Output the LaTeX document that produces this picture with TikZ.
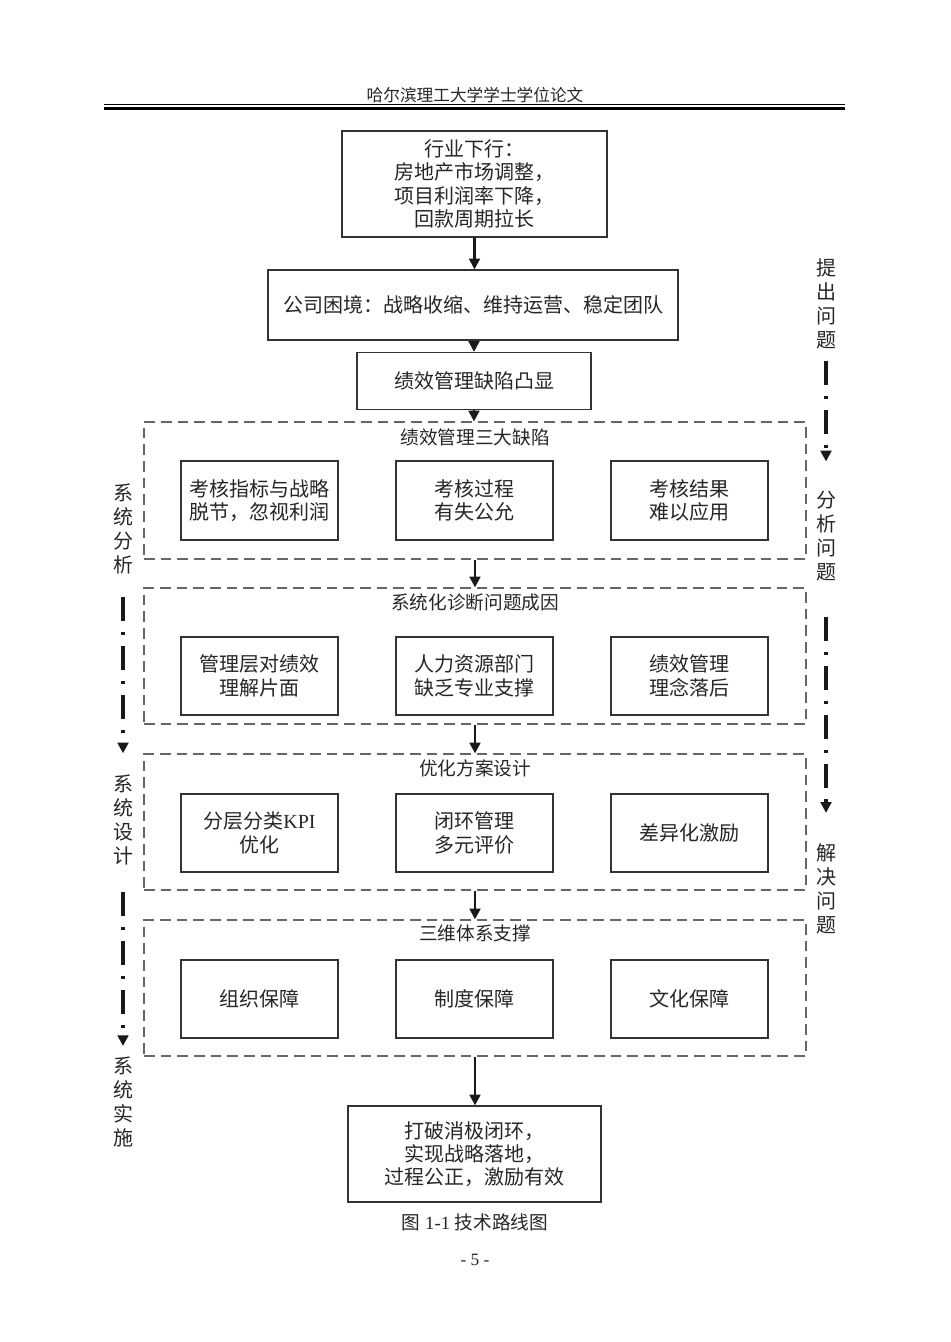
\documentclass[tikz,border=0pt]{standalone}
\usepackage{fontspec}
\setmainfont{Liberation Serif}
\newfontfamily\cjk{Noto Sans CJK SC}
\usetikzlibrary{arrows.meta}
\begin{document}
\begin{tikzpicture}[x=0.75pt,y=-0.75pt,
  sz/.style 2 args={minimum width=#1*0.75pt, minimum height=#2*0.75pt},
  box/.style={draw=black!80, line width=0.9pt, align=center, inner sep=0pt,
    font=\cjk\fontsize{15}{17.5}\selectfont, text=black!85},
  grp/.style={draw=black!60, line width=0.9pt, dash pattern=on 8pt off 4.5pt, inner sep=0pt},
  ttl/.style={font=\cjk\fontsize{14}{17}\selectfont, text=black!85, inner sep=0pt},
  arr/.style={draw=black!90, line width=1.8pt, -{Triangle[length=8pt,width=8pt]}},
  dd/.style={draw=black!90, line width=2.3pt, dash pattern=on 18pt off 8.25pt on 2.25pt off 8.25pt,
    -{Triangle[length=8pt,width=8pt]}},
  vlab/.style={align=center, inner sep=0pt, font=\cjk\fontsize{15}{18}\selectfont, text=black!85},
]
\useasboundingbox[fill=white] (0,0) rectangle (950,1342);

% header
\node[font=\cjk\fontsize{12.5}{15}\selectfont, text=black!85, inner sep=0pt] (hdr) at (475,95) {哈尔滨理工大学学士学位论文};
\draw[line width=0.75pt] (104,104) -- (845,104);
\draw[line width=2pt] (104,108.3) -- (845,108.3);

% top chain
\node[box, sz={265}{106}] (b1) at (474.5,184) {行业下行：\\房地产市场调整，\\项目利润率下降，\\回款周期拉长};
\node[box, sz={410}{70}] (b2) at (473,305) {公司困境：战略收缩、维持运营、稳定团队};
\node[box, sz={234}{57}] (b3) at (474,381) {绩效管理缺陷凸显};

% group 1
\node[grp, sz={662}{137}] (g1) at (475,490.5) {};
\node[ttl] (t1) at (475,437) {绩效管理三大缺陷};
\node[box, sz={157}{79}] (a1) at (259.5,500.5) {考核指标与战略\\脱节，忽视利润};
\node[box, sz={157}{79}] (a2) at (474.5,500.5) {考核过程\\有失公允};
\node[box, sz={157}{79}] (a3) at (689.5,500.5) {考核结果\\难以应用};

% group 2
\node[grp, sz={662}{136}] (g2) at (475,656) {};
\node[ttl] (t2) at (475,602) {系统化诊断问题成因};
\node[box, sz={157}{78}] (c1) at (259.5,676) {管理层对绩效\\理解片面};
\node[box, sz={157}{78}] (c2) at (474.5,676) {人力资源部门\\缺乏专业支撑};
\node[box, sz={157}{78}] (c3) at (689.5,676) {绩效管理\\理念落后};

% group 3
\node[grp, sz={662}{136}] (g3) at (475,822) {};
\node[ttl] (t3) at (475,768) {优化方案设计};
\node[box, sz={157}{78}] (d1) at (259.5,833) {分层分类{\rmfamily KPI}\\优化};
\node[box, sz={157}{78}] (d2) at (474.5,833) {闭环管理\\多元评价};
\node[box, sz={157}{78}] (d3) at (689.5,833) {差异化激励};

% group 4
\node[grp, sz={662}{136}] (g4) at (475,988) {};
\node[ttl] (t4) at (475,933) {三维体系支撑};
\node[box, sz={157}{78}] (e1) at (259.5,999) {组织保障};
\node[box, sz={157}{78}] (e2) at (474.5,999) {制度保障};
\node[box, sz={157}{78}] (e3) at (689.5,999) {文化保障};

% result
\node[box, sz={253}{96}] (b9) at (474.5,1154) {打破消极闭环，\\实现战略落地，\\过程公正，激励有效};

% caption and page number
\node[font=\fontsize{14}{16}\selectfont, text=black!85, inner sep=0pt] (cap) at (475,1222) {{\cjk 图} 1-1 {\cjk 技术路线图}};
\node[font=\fontsize{13}{15}\selectfont, text=black!85, inner sep=0pt] (pg) at (475,1260) {- 5 -};

% main arrows
\draw[arr] (b1.south) -- (b1.south |- b2.north);
\draw[arr] (b3.north |- b2.south) -- (b3.north);
\draw[arr] (b3.south) -- (b3.south |- g1.north);
\draw[arr] (g1.south) -- (g2.north);
\draw[arr] (g2.south) -- (g3.north);
\draw[arr] (g3.south) -- (g4.north);
\draw[arr] (g4.south) -- (g4.south |- b9.north);

% right side labels
\node[vlab] (r1) at (826,304) {提\\出\\问\\题};
\node[vlab] (r2) at (826,536) {分\\析\\问\\题};
\node[vlab] (r3) at (826,889) {解\\决\\问\\题};
\draw[dd, shorten <=9pt, shorten >=22pt] (r1.south) -- (r2.north);
\draw[dd, shorten <=27pt, shorten >=23pt] (r2.south) -- (r3.north);

% left side labels
\node[vlab] (l1) at (123,529) {系\\统\\分\\析};
\node[vlab] (l2) at (123,820) {系\\统\\设\\计};
\node[vlab] (l3) at (123,1102) {系\\统\\实\\施};
\draw[dd, shorten <=17pt, shorten >=16pt] (l1.south) -- (l2.north);
\draw[dd, shorten <=20pt, shorten >=8pt] (l2.south) -- (l3.north);
\end{tikzpicture}
\end{document}
